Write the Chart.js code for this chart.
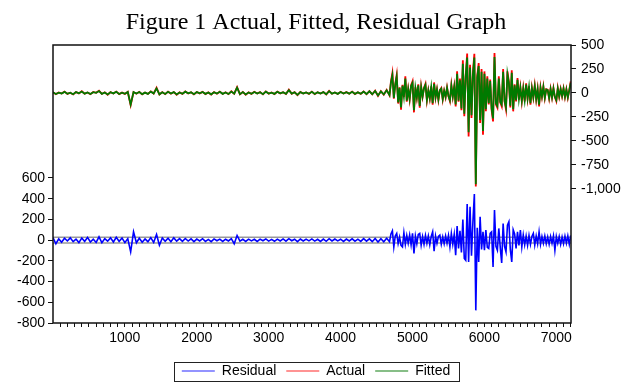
<!DOCTYPE html>
<html><head><meta charset="utf-8">
<script src="https://cdn.jsdelivr.net/npm/chart.js@4/dist/chart.umd.min.js"></script>
<style>html,body{margin:0;padding:0;background:#fff}</style>
</head><body>
<canvas id="c" width="632" height="383"></canvas>
<script>
// Observation index: every 40th obs in the calm stretch, every 20th obs in the volatile stretch
const obs = [
1,41,81,121,161,201,241,281,321,361,
401,441,481,521,561,601,641,681,721,761,
801,841,881,921,961,1001,1041,1081,1121,1161,
1201,1241,1281,1321,1361,1401,1441,1481,1521,1561,
1601,1641,1681,1721,1761,1801,1841,1881,1921,1961,
2001,2041,2081,2121,2161,2201,2241,2281,2321,2361,
2401,2441,2481,2521,2561,2601,2641,2681,2721,2761,
2801,2841,2881,2921,2961,3001,3041,3081,3121,3161,
3201,3241,3281,3321,3361,3401,3441,3481,3521,3561,
3601,3641,3681,3721,3761,3801,3841,3881,3921,3961,
4001,4041,4081,4121,4161,4201,4241,4281,4321,4361,
4401,4441,4481,4521,4561,4601,4641,4681,
4701,4721,4741,4761,4781,4801,4821,4841,4861,4881,
4901,4921,4941,4961,4981,5001,5021,5041,5061,5081,
5101,5121,5141,5161,5181,5201,5221,5241,5261,5281,
5301,5321,5341,5361,5381,5401,5421,5441,5461,5481,
5501,5521,5541,5561,5581,5601,5621,5641,5661,5681,
5701,5721,5741,5761,5781,5801,5821,5841,5861,5881,
5901,5921,5941,5961,5981,6001,6021,6041,6061,6081,
6101,6121,6141,6161,6181,6201,6221,6241,6261,6281,
6301,6321,6341,6361,6381,6401,6421,6441,6461,6481,
6501,6521,6541,6561,6581,6601,6621,6641,6661,6681,
6701,6721,6741,6761,6781,6801,6821,6841,6861,6881,
6901,6921,6941,6961,6981,7001,7021,7041,7061,7081,
7101,7121,7141,7161,7181,7201];

const actual = [
8,-12,5,-6,14,-9,3,-15,10,-4,
18,-8,6,-13,11,2,24,-10,7,-18,
9,-5,15,-12,4,-9,13,-128,10,-7,
12,-14,5,-10,17,-6,55,-16,9,-12,
14,-7,10,-18,6,-9,16,-5,8,-14,
10,-4,12,-11,6,-16,9,-7,14,-10,
7,-12,18,-8,62,-14,11,-18,6,-9,
12,-6,9,-14,17,-7,5,-11,14,-4,
8,-10,35,-8,9,-22,11,-6,6,-9,
14,-12,8,-6,10,-15,22,-8,6,-10,
12,-6,9,-8,15,-11,8,-9,16,-13,
20,-15,24,-30,20,-18,32,-25,
120,208,-60,95,190,-110,60,-174,85,-40,
173,-90,45,-70,80,121,-202,60,-50,90,
-153,69,-40,55,97,-80,30,-60,70,-122,
110,-50,40,-75,30,52,-70,25,-45,60,
-35,-87,86,-40,70,-139,225,-90,150,-180,
340,-243,190,410,-452,295,-260,220,409,-975,
180,312,-313,250,-434,225,-191,173,-120,140,
-180,-296,417,-120,-153,173,-100,-139,250,-90,
-174,225,120,-150,236,-191,90,-87,156,-70,
60,-90,52,-87,100,-60,70,-122,55,-50,
80,-70,45,-139,60,-40,70,-55,40,34,
-60,45,-50,52,-45,-87,52,-40,45,-35,
50,-45,40,-50,30,121];

const fitted = [
7,-10,4,-5,12,-8,3,-13,9,-3,
15,-7,5,-11,9,2,20,-9,6,-15,
8,-4,13,-10,3,-8,11,-120,9,-6,
10,-12,4,-9,14,-5,48,-14,8,-10,
12,-6,9,-15,5,-8,14,-4,7,-12,
9,-3,10,-9,5,-14,8,-6,12,-9,
6,-10,15,-7,56,-12,9,-15,5,-8,
10,-5,8,-12,14,-6,4,-9,12,-3,
7,-9,30,-7,8,-19,9,-5,5,-8,
12,-10,7,-5,9,-13,19,-7,5,-9,
10,-5,8,-7,13,-9,7,-8,14,-11,
17,-13,21,-26,17,-15,28,-21,
108,185,-52,86,170,-98,54,-150,76,-36,
150,-80,40,-62,72,105,-180,54,-45,80,
-135,60,-36,49,85,-72,27,-54,62,-105,
95,-45,36,-67,27,45,-62,22,-40,54,
-31,-75,75,-36,62,-120,200,-80,133,-160,
305,-215,170,370,-410,265,-232,196,370,-950,
160,280,-280,222,-395,200,-170,150,-107,125,
-160,-265,375,-107,-135,150,-90,-120,222,-80,
-150,200,107,-133,210,-170,80,-75,138,-62,
54,-80,45,-75,88,-54,62,-105,49,-45,
71,-62,40,-122,52,-36,62,-49,36,30,
-52,40,-45,45,-40,-75,45,-36,40,-31,
45,-40,36,-45,27,105];

const residual = [
25,-35,12,-20,18,-8,22,-15,10,-24,
20,-12,26,-18,9,-22,32,-25,15,-10,
22,-18,28,-12,20,-24,15,-113,80,-25,
18,-20,12,-15,24,-22,55,-50,20,-12,
18,-15,22,-10,14,-12,16,-9,12,-15,
10,-8,14,-12,7,-15,12,-6,10,-12,
9,-8,14,-35,45,-10,8,-12,10,-7,
8,-12,10,-6,12,-9,7,-11,10,-8,
12,-10,14,-6,9,-14,11,-8,10,-7,
12,-9,8,-12,10,-11,14,-8,11,-7,
9,-12,10,-8,13,-10,9,-12,14,-10,
12,-15,16,-18,14,-16,18,-15,
60,90,-65,40,65,-32,30,-50,-65,71,
-40,45,-30,50,-45,65,-129,40,-35,55,
65,-48,35,-40,45,-30,40,-45,35,81,
-106,40,-30,35,48,-39,30,-35,40,-30,
45,-65,65,-40,55,-145,135,-80,90,-120,
200,-177,-194,348,-210,323,-150,180,445,-678,
120,-210,226,-90,80,-97,97,-70,-80,65,
80,-258,290,-60,-97,113,-70,-220,161,-60,
-113,145,177,-90,-210,100,60,-80,81,-50,
97,-65,50,-45,40,-50,45,-40,35,65,
-48,40,-35,81,-40,35,-30,40,-35,30,
-40,35,-30,40,-97,35,-30,35,-40,30,
-35,38,-30,40,-40,45];

const seBand = [27, -27];               // residual +/- 1 S.E. lines
const residualTicks = [-800,-600,-400,-200,0,200,400,600];
const levelTicks = [-1000,-750,-500,-250,0,250,500];
const xLabelTicks = [1000,2000,3000,4000,5000,6000,7000];
const xMinorTicks = [];
for (let v = 100; v <= 7200; v += 100) xMinorTicks.push(v);
const seriesNames = ['Residual','Actual','Fitted'];

if (obs.length !== actual.length || obs.length !== fitted.length || obs.length !== residual.length) {
  console.error('length mismatch', obs.length, actual.length, fitted.length, residual.length);
}

const pts = arr => obs.map((x, i) => ({x, y: arr[i]}));
const flat = v => [{x: 1, y: v}, {x: 7205, y: v}];
const legendSample = ['#6f6fff', '#ff6f6f', '#5fa85f'];
const FONT = "'Liberation Sans', Arial, sans-serif";

const framePlugin = {
  id: 'frame',
  afterDatasetsDraw(chart) {
    const {ctx, chartArea: a} = chart;
    ctx.save();
    ctx.strokeStyle = '#111';
    ctx.lineWidth = 1.5;
    ctx.strokeRect(a.left, a.top, a.right - a.left, a.bottom - a.top);
    ctx.restore();
  },
  afterDraw(chart) {
    const lg = chart.legend;
    if (!lg || !lg.legendHitBoxes || !lg.legendHitBoxes.length) return;
    const hb = lg.legendHitBoxes;
    const first = hb[0], last = hb[hb.length - 1];
    const ctx = chart.ctx;
    ctx.save();
    ctx.strokeStyle = '#222';
    ctx.lineWidth = 1;
    const l = Math.round(first.left - 8) + 0.5;
    const r = Math.round(last.left + last.width + 9) + 0.5;
    const t = Math.round(first.top - 2) + 0.5;
    const b = Math.round(first.top + first.height + 3) + 0.5;
    ctx.strokeRect(l, t, r - l, b - t);
    ctx.restore();
  }
};

new Chart(document.getElementById('c'), {
  type: 'line',
  data: {
    datasets: [
      {label: seriesNames[0], data: pts(residual), borderColor: '#0000ff', borderWidth: 1.6, yAxisID: 'yRes', order: 0},
      {label: seriesNames[1], data: pts(actual), borderColor: '#ff0000', borderWidth: 1.8, yAxisID: 'yLev', order: 2},
      {label: seriesNames[2], data: pts(fitted), borderColor: '#007a00', borderWidth: 1.8, yAxisID: 'yLev', order: 1},
      {label: 'se+', data: flat(seBand[0]), borderColor: '#999999', borderWidth: 1.5, yAxisID: 'yRes', order: 3},
      {label: 'se-', data: flat(seBand[1]), borderColor: '#999999', borderWidth: 1.5, yAxisID: 'yRes', order: 3}
    ]
  },
  options: {
    responsive: false,
    animation: false,
    devicePixelRatio: 1,
    elements: {point: {radius: 0}, line: {tension: 0}},
    layout: {padding: 0},
    plugins: {
      tooltip: {enabled: false},
      title: {
        display: true,
        text: 'Figure 1 Actual, Fitted, Residual Graph',
        color: '#000',
        font: {family: "'Liberation Serif', 'Times New Roman', serif", size: 24, weight: 'normal'},
        padding: {top: 8, bottom: 8.2}
      },
      legend: {
        position: 'bottom',
        maxHeight: 29,
        labels: {
          color: '#000',
          font: {family: FONT, size: 14},
          usePointStyle: true,
          pointStyle: 'line',
          pointStyleWidth: 33,
          padding: 10,
          sort: (a, b) => a.datasetIndex - b.datasetIndex,
          generateLabels(chart) {
            const items = Chart.defaults.plugins.legend.labels.generateLabels(chart);
            return items.filter(it => it.datasetIndex < 3).map(it => Object.assign(it, {strokeStyle: legendSample[it.datasetIndex], lineWidth: 1.5}));
          }
        }
      }
    },
    scales: {
      x: {
        type: 'linear',
        min: 1, max: 7205,
        border: {display: false},
        grid: {drawOnChartArea: false, drawTicks: true, tickLength: 4, color: '#111'},
        afterBuildTicks(scale) { scale.ticks = xMinorTicks.map(v => ({value: v})); },
        afterFit(scale) { scale.height = 31; },
        ticks: {
          autoSkip: false, maxRotation: 0, padding: 3, color: '#000',
          font: {family: FONT, size: 14},
          callback: v => xLabelTicks.includes(v) ? String(v) : ''
        }
      },
      yRes: {
        type: 'linear', position: 'left',
        min: -800, max: 1884,
        border: {display: false},
        grid: {drawOnChartArea: false, drawTicks: true, tickLength: 5, color: '#111'},
        afterBuildTicks(scale) { scale.ticks = residualTicks.map(v => ({value: v})); },
        afterFit(scale) { scale.width = 53; },
        ticks: {padding: 3, color: '#000', font: {family: FONT, size: 14}, callback: v => String(v)}
      },
      yLev: {
        type: 'linear', position: 'right',
        min: -2396, max: 500,
        border: {display: false},
        grid: {drawOnChartArea: false, drawTicks: true, tickLength: 5, color: '#111'},
        afterBuildTicks(scale) { scale.ticks = levelTicks.map(v => ({value: v})); },
        afterFit(scale) { scale.width = 61; },
        ticks: {padding: 5, color: '#000', font: {family: FONT, size: 14}, callback: v => v.toLocaleString('en-US')}
      }
    }
  },
  plugins: [framePlugin]
});
</script>
</body></html>
